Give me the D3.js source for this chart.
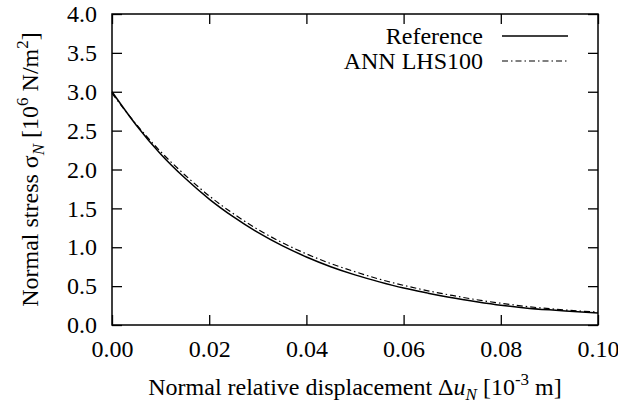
<!DOCTYPE html>
<html>
<head>
<meta charset="utf-8">
<script src="https://cdn.jsdelivr.net/npm/d3@7"></script>
<style>
    body { margin: 0; background: #fff; }
    svg text { font-family: "Liberation Serif", "Times New Roman", serif; fill: #000; }
</style>
</head>
<body>
<div id="chart"></div>
<script>
// displacement [10^-3 m]
let dispValues = [0, 0.005, 0.01, 0.015, 0.02, 0.025, 0.03, 0.035, 0.04, 0.045, 0.05,
    0.055, 0.06, 0.065, 0.07, 0.075, 0.08, 0.085, 0.09, 0.095, 0.1];
// normal stress [10^6 N/m^2]
let referenceValues = [3.00, 2.57, 2.20, 1.89, 1.62, 1.39, 1.19, 1.02, 0.875, 0.75, 0.645,
    0.555, 0.475, 0.41, 0.35, 0.30, 0.255, 0.22, 0.195, 0.175, 0.155];
let annValues = [2.98, 2.58, 2.23, 1.93, 1.66, 1.43, 1.23, 1.06, 0.915, 0.79, 0.685,
    0.59, 0.51, 0.44, 0.38, 0.325, 0.28, 0.24, 0.21, 0.185, 0.165];
let seriesNames = ["Reference", "ANN LHS100"];
let xTicks = [0, 0.02, 0.04, 0.06, 0.08, 0.1];
let yTicks = [0, 0.5, 1, 1.5, 2, 2.5, 3, 3.5, 4];

let margin = {top: 14, right: 20, bottom: 80, left: 112};
let width = 618 - margin.left - margin.right;
let height = 405 - margin.top - margin.bottom;

let svg = d3.select("#chart").append("svg")
    .attr("width", 618)
    .attr("height", 405);

let g = svg.append("g")
    .attr("transform", `translate(${margin.left},${margin.top})`);

let x = d3.scaleLinear().domain([0, 0.1]).range([0, width]);
let y = d3.scaleLinear().domain([0, 4]).range([height, 0]);

let tickLen = 10;

// axes (gnuplot style: ticks inside, mirrored)
g.append("g")
    .attr("transform", `translate(0,${height})`)
    .call(d3.axisBottom(x).tickValues(xTicks).tickSize(-tickLen).tickPadding(15).tickFormat(d3.format(".2f")));
g.append("g")
    .call(d3.axisLeft(y).tickValues(yTicks).tickSize(-tickLen).tickPadding(15).tickFormat(d3.format(".1f")));
g.append("g")
    .call(d3.axisTop(x).tickValues(xTicks).tickSize(-tickLen).tickFormat(""));
g.append("g")
    .attr("transform", `translate(${width},0)`)
    .call(d3.axisRight(y).tickValues(yTicks).tickSize(-tickLen).tickFormat(""));

g.selectAll(".domain").remove();
g.selectAll(".tick line").attr("stroke", "#000").attr("stroke-width", 1.3);
g.selectAll(".tick text").attr("font-size", "24px");

g.append("rect")
    .attr("width", width)
    .attr("height", height)
    .attr("fill", "none")
    .attr("stroke", "#000")
    .attr("stroke-width", 1.5);

// curves
let line = d3.line()
    .x((d, i) => x(dispValues[i]))
    .y(d => y(d))
    .curve(d3.curveMonotoneX);

g.append("path")
    .datum(referenceValues)
    .attr("fill", "none")
    .attr("stroke", "#000")
    .attr("stroke-width", 1.5)
    .attr("d", line);

g.append("path")
    .datum(annValues)
    .attr("fill", "none")
    .attr("stroke", "#000")
    .attr("stroke-width", 1.2)
    .attr("stroke-dasharray", "6,3,1.5,3")
    .attr("d", line);

// legend
let legend = svg.append("g");
let dashes = [null, "6,3,1.5,3"];
seriesNames.forEach((name, i) => {
    let ly = 36 + i * 25;
    legend.append("text")
        .attr("x", 483)
        .attr("y", ly + 8)
        .attr("text-anchor", "end")
        .attr("font-size", "24px")
        .text(name);
    legend.append("line")
        .attr("x1", 502).attr("x2", 568)
        .attr("y1", ly).attr("y2", ly)
        .attr("stroke", "#000")
        .attr("stroke-width", i == 0 ? 1.5 : 1.2)
        .attr("stroke-dasharray", dashes[i]);
});

// axis labels
let xl = svg.append("text")
    .attr("x", margin.left + width / 2)
    .attr("y", 395)
    .attr("text-anchor", "middle")
    .attr("font-size", "24px");
xl.append("tspan").text("Normal relative displacement \u0394");
xl.append("tspan").attr("font-style", "italic").text("u");
xl.append("tspan").attr("font-style", "italic").attr("font-size", "17px").attr("dy", 5).text("N");
xl.append("tspan").attr("dy", -5).text(" [10");
xl.append("tspan").attr("font-size", "17px").attr("dy", -10).text("-3");
xl.append("tspan").attr("dy", 10).text(" m]");

let yl = svg.append("text")
    .attr("transform", `translate(38,${margin.top + height / 2}) rotate(-90)`)
    .attr("text-anchor", "middle")
    .attr("font-size", "24px");
yl.append("tspan").text("Normal stress \u03c3");
yl.append("tspan").attr("font-style", "italic").attr("font-size", "17px").attr("dy", 6).text("N");
yl.append("tspan").attr("dy", -6).text(" [10");
yl.append("tspan").attr("font-size", "17px").attr("dy", -10).text("6");
yl.append("tspan").attr("dy", 10).text(" N/m");
yl.append("tspan").attr("font-size", "17px").attr("dy", -10).text("2");
yl.append("tspan").attr("dy", 10).text("]");
</script>
</body>
</html>
